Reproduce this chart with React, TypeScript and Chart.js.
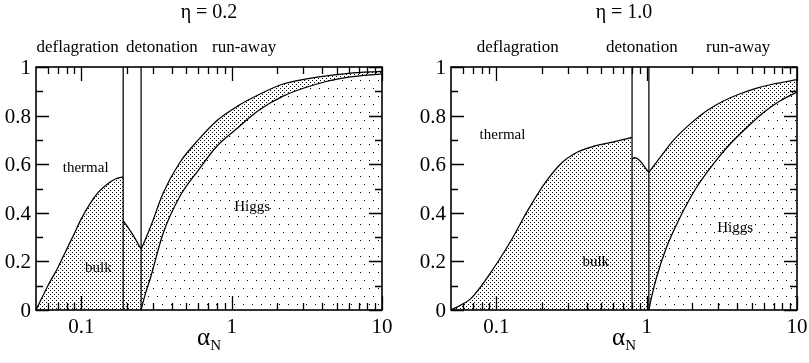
import React, { useEffect, useRef } from 'react';
import { Chart, registerables } from 'chart.js';

Chart.register(...registerables);

type P = [number, number];

// ---------- η = 0.2 panel ----------
const leftThermalEdge: P[] = [[0.05, 0], [0.06, 0.1], [0.07, 0.175], [0.08, 0.25], [0.09, 0.315], [0.1, 0.375], [0.115, 0.44], [0.13, 0.485], [0.15, 0.52], [0.17, 0.54], [0.19, 0.548]];
const leftDetonationEdge: P[] = [[0.19, 0.368], [0.22, 0.31], [0.25, 0.25]];
const leftRunawayEdge: P[] = [[0.25, 0.25], [0.29, 0.345], [0.35, 0.48], [0.45, 0.605], [0.6, 0.7], [0.8, 0.78], [1.1, 0.84], [1.5, 0.885], [2.2, 0.93], [3.7, 0.958], [6, 0.974], [10, 0.982]];
const leftHiggsEdge: P[] = [[0.25, 0], [0.265, 0.06], [0.29, 0.137], [0.35, 0.315], [0.45, 0.465], [0.6, 0.575], [0.8, 0.675], [1.1, 0.75], [1.5, 0.82], [2.2, 0.88], [3.7, 0.93], [6, 0.958], [10, 0.972]];
const leftWallsX = [0.19, 0.25];

// ---------- η = 1.0 panel ----------
const rightThermalEdge: P[] = [[0.05, 0], [0.058, 0.02], [0.068, 0.048], [0.0975, 0.178], [0.126, 0.288], [0.162, 0.41], [0.21, 0.521], [0.271, 0.604], [0.35, 0.651], [0.452, 0.675], [0.584, 0.69], [0.8, 0.71]];
const rightDetonationEdge: P[] = [[0.8, 0.62], [0.83, 0.627], [0.87, 0.622], [0.93, 0.605], [0.98, 0.585], [1.035, 0.566]];
const rightRunawayEdge: P[] = [[1.035, 0.566], [1.23, 0.628], [1.5, 0.697], [1.94, 0.765], [2.51, 0.82], [3.24, 0.86], [4.19, 0.89], [5.41, 0.913], [6.98, 0.93], [10, 0.948]];
const rightHiggsEdge: P[] = [[1.035, 0], [1.08, 0.055], [1.166, 0.136], [1.36, 0.26], [1.67, 0.382], [2.15, 0.505], [2.78, 0.601], [3.59, 0.683], [4.64, 0.751], [5.99, 0.813], [7.74, 0.861], [10, 0.897]];
const rightWallsX = [0.8, 1.035];

// ---------- axes / labels ----------
const xRange: P = [0.05, 10];
const yRange: P = [0, 1];
const xTickMajor = [0.1, 1, 10];
const xTickMinor = [0.06, 0.07, 0.08, 0.09, 0.2, 0.3, 0.4, 0.5, 0.6, 0.7, 0.8, 0.9, 2, 3, 4, 5, 6, 7, 8, 9];
const yTickMajor = [0, 0.2, 0.4, 0.6, 0.8, 1];
const yTickMinor = [0.1, 0.3, 0.5, 0.7, 0.9];
const regimeNames = ['deflagration', 'detonation', 'run-away'];
const leftRegimeX = [0.0946, 0.343, 1.21];
const rightRegimeX = [0.139, 0.93, 4.06];
const phaseNames = ['thermal', 'bulk', 'Higgs'];
const leftPhasePos: P[] = [[0.107, 0.584], [0.13, 0.173], [1.37, 0.424]];
const rightPhasePos: P[] = [[0.11, 0.72], [0.459, 0.198], [3.88, 0.337]];
const leftTitle = 'η = 0.2';
const rightTitle = 'η = 1.0';

const SERIF = '"Liberation Serif", "Times New Roman", Times, serif';

function toXY(arr: P[]) {
  return arr.map(([x, y]) => ({ x, y }));
}

function makePattern(ctx: CanvasRenderingContext2D, w: number, h: number, dots: P[], bg: string | null) {
  const c = document.createElement('canvas');
  c.width = w;
  c.height = h;
  const g = c.getContext('2d')!;
  if (bg) {
    g.fillStyle = bg;
    g.fillRect(0, 0, w, h);
  }
  g.fillStyle = '#000';
  dots.forEach(([x, y]) => g.fillRect(x, y, 1, 1));
  return ctx.createPattern(c, 'repeat')!;
}

interface PanelSpec {
  title: string;
  thermal: P[];
  deton: P[];
  runaway: P[];
  higgs: P[];
  walls: number[];
  regimeX: number[];
  phasePos: P[];
  width: number;
  padding: { left: number; right: number; top: number; bottom: number };
}

function Panel({ spec }: { spec: PanelSpec }) {
  const ref = useRef<HTMLCanvasElement>(null);
  useEffect(() => {
    const canvas = ref.current!;
    const ctx = canvas.getContext('2d')!;
    const dense = makePattern(ctx, 4, 4, [[0, 0], [2, 2]], null);
    const sparse = makePattern(ctx, 9, 16, [[0, 0], [4, 8]], '#fff');

    const curve = (data: P[], bg: any, order: number) => ({
      data: toXY(data),
      borderColor: '#000',
      borderWidth: 1.25,
      backgroundColor: bg,
      fill: 'origin',
      pointRadius: 0,
      cubicInterpolationMode: 'monotone',
      order,
    });
    const wall = (x: number) => ({
      data: [{ x, y: yRange[0] }, { x, y: yRange[1] }],
      borderColor: '#000',
      borderWidth: 1.25,
      fill: false,
      pointRadius: 0,
      order: 0,
    });

    const decor = {
      id: 'decor',
      afterDatasetsDraw(chart: any) {
        const { ctx: c, chartArea: a, scales } = chart;
        const xs = scales.x;
        const ys = scales.y;
        c.save();
        c.strokeStyle = '#000';
        c.lineWidth = 1.3;
        c.beginPath();
        const xt = (vals: number[], len: number) => {
          vals.forEach((v) => {
            const px = Math.round(xs.getPixelForValue(v)) + 0.5;
            c.moveTo(px, a.bottom);
            c.lineTo(px, a.bottom - len);
            c.moveTo(px, a.top);
            c.lineTo(px, a.top + len);
          });
        };
        const yt = (vals: number[], len: number) => {
          vals.forEach((v) => {
            const py = Math.round(ys.getPixelForValue(v)) + 0.5;
            c.moveTo(a.left, py);
            c.lineTo(a.left + len, py);
            c.moveTo(a.right, py);
            c.lineTo(a.right - len, py);
          });
        };
        xt(xTickMajor, 14);
        xt(xTickMinor, 7);
        yt(yTickMajor, 13);
        yt(yTickMinor, 7);
        c.stroke();
        c.lineWidth = 1.6;
        c.strokeRect(a.left, a.top, a.right - a.left, a.bottom - a.top);

        c.fillStyle = '#000';
        // tick labels
        c.font = `21px ${SERIF}`;
        c.textAlign = 'center';
        c.textBaseline = 'alphabetic';
        xTickMajor.forEach((v) => c.fillText(String(v), xs.getPixelForValue(v), a.bottom + 23));
        c.textAlign = 'right';
        yTickMajor.forEach((v) => c.fillText(String(v), a.left - 5, ys.getPixelForValue(v) + 7));

        // axis title α_N
        const cx = (a.left + a.right) / 2;
        c.font = `25px ${SERIF}`;
        const wa = c.measureText('α').width;
        c.font = `15px ${SERIF}`;
        const wn = c.measureText('N').width;
        const x0 = cx - (wa + wn) / 2;
        c.textAlign = 'left';
        c.font = `25px ${SERIF}`;
        c.fillText('α', x0, a.bottom + 35);
        c.font = `15px ${SERIF}`;
        c.fillText('N', x0 + wa, a.bottom + 40);

        // title
        c.textAlign = 'center';
        c.font = `20px ${SERIF}`;
        c.fillText(spec.title, cx, 18);

        // regime names
        c.font = `17px ${SERIF}`;
        regimeNames.forEach((t, i) => c.fillText(t, xs.getPixelForValue(spec.regimeX[i]), 52));

        // phase names
        c.font = `15px ${SERIF}`;
        c.textBaseline = 'middle';
        phaseNames.forEach((t, i) => {
          const [vx, vy] = spec.phasePos[i];
          c.fillText(t, xs.getPixelForValue(vx), ys.getPixelForValue(vy));
        });
        c.restore();
      },
    };

    const chart = new Chart(canvas, {
      type: 'line',
      data: {
        datasets: [
          ...spec.walls.map(wall),
          curve(spec.higgs, sparse, 1),
          curve(spec.thermal, dense, 2),
          curve(spec.deton, dense, 2),
          curve(spec.runaway, dense, 2),
        ] as any,
      },
      options: {
        responsive: false,
        animation: false,
        events: [],
        devicePixelRatio: 1,
        layout: { padding: spec.padding },
        plugins: { legend: { display: false }, tooltip: { enabled: false }, title: { display: false } },
        scales: {
          x: { type: 'logarithmic', min: xRange[0], max: xRange[1], display: false },
          y: { type: 'linear', min: yRange[0], max: yRange[1], display: false },
        },
      } as any,
      plugins: [decor],
    });
    return () => chart.destroy();
  }, []);
  return <canvas ref={ref} width={spec.width} height={363} style={{ display: 'block', width: spec.width, height: 363 }} />;
}

const leftSpec: PanelSpec = {
  title: leftTitle,
  thermal: leftThermalEdge,
  deton: leftDetonationEdge,
  runaway: leftRunawayEdge,
  higgs: leftHiggsEdge,
  walls: leftWallsX,
  regimeX: leftRegimeX,
  phasePos: leftPhasePos,
  width: 404,
  padding: { left: 36, right: 22, top: 67, bottom: 53 },
};

const rightSpec: PanelSpec = {
  title: rightTitle,
  thermal: rightThermalEdge,
  deton: rightDetonationEdge,
  runaway: rightRunawayEdge,
  higgs: rightHiggsEdge,
  walls: rightWallsX,
  regimeX: rightRegimeX,
  phasePos: rightPhasePos,
  width: 405,
  padding: { left: 47, right: 12, top: 67, bottom: 53 },
};

export default function App() {
  return (
    <div style={{ position: 'fixed', left: 0, top: 0, width: 809, height: 363, background: '#fff', display: 'flex' }}>
      <Panel spec={leftSpec} />
      <Panel spec={rightSpec} />
    </div>
  );
}
